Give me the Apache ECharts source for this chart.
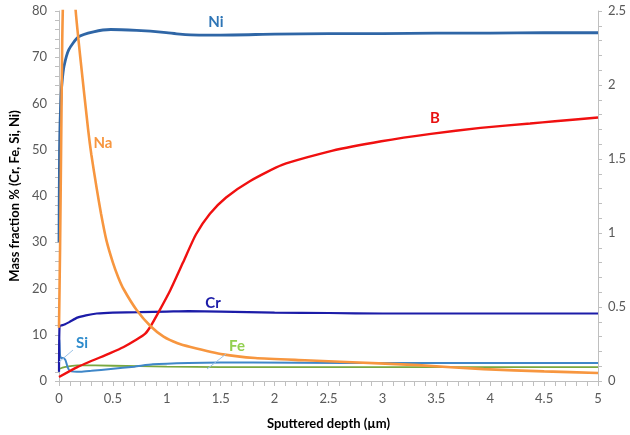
<!DOCTYPE html>
<html>
<head>
<meta charset="utf-8">
<script src="https://cdn.jsdelivr.net/npm/echarts@6/dist/echarts.min.js"></script>
<style>
html,body{margin:0;padding:0;background:#fff;}
#chart{width:630px;height:435px;}
</style>
</head>
<body>
<div id="chart"></div>
<script>
// ---- data (depth in µm) ----
var niDepth = [0, 0.005, 0.01, 0.02, 0.03, 0.046, 0.09, 0.18, 0.32, 0.48, 0.72, 0.97, 1.12, 1.3, 1.5, 2, 2.5, 3, 3.5, 4, 4.5, 5];
var niValue = [30, 50, 56, 62, 65, 68, 71.6, 74.4, 75.5, 76.0, 75.8, 75.4, 75.0, 74.8, 74.8, 75, 75.1, 75.1, 75.2, 75.2, 75.3, 75.3];

var crDepth = [0, 0.005, 0.02, 0.05, 0.1, 0.17, 0.25, 0.35, 0.5, 0.75, 1.0, 1.2, 1.5, 2, 2.5, 3, 4, 5];
var crValue = [2, 11.8, 12, 12.2, 12.8, 13.7, 14.2, 14.6, 14.8, 14.9, 15.0, 15.1, 15.0, 14.8, 14.7, 14.6, 14.6, 14.6];

var siDepth = [0, 0.003, 0.01, 0.02, 0.04, 0.06, 0.08, 0.1, 0.2, 0.3, 0.48, 0.7, 0.87, 1.2, 1.5, 1.8, 2.65, 3.5, 5];
var siValue = [2, 9, 5.5, 5, 5, 4.5, 3, 2.2, 2.0, 2.2, 2.6, 3.1, 3.6, 3.9, 4.0, 4.0, 3.9, 3.9, 3.9];

var feDepth = [0, 0.05, 0.17, 0.5, 1, 1.5, 2, 3, 4, 5];
var feValue = [2.6, 3.0, 3.4, 3.3, 3.1, 3.0, 3.0, 3.0, 3.0, 3.0];

// right axis (B, Na)
var naDepth = [0, 0.01, 0.02, 0.03, 0.035, 0.05, 0.08, 0.12, 0.155, 0.2, 0.27, 0.3, 0.35, 0.39, 0.44, 0.5, 0.55, 0.6, 0.72, 0.85, 0.97, 1.1, 1.22, 1.52, 1.82, 2.28, 2.72, 3.33, 3.94, 4.5, 5];
var naValue = [0.36, 0.9, 1.6, 2.3, 2.5, 2.9, 3.2, 2.95, 2.5, 2.17, 1.70, 1.53, 1.30, 1.13, 0.95, 0.80, 0.70, 0.62, 0.48, 0.37, 0.30, 0.255, 0.23, 0.18, 0.155, 0.14, 0.127, 0.107, 0.08, 0.065, 0.054];

var bDepth = [0, 0.17, 0.48, 0.6, 0.72, 0.8, 0.85, 0.92, 1.03, 1.15, 1.27, 1.4, 1.55, 1.77, 2.07, 2.53, 2.99, 3.45, 3.91, 4.37, 4.6, 5];
var bValue = [0.027, 0.094, 0.19, 0.23, 0.28, 0.32, 0.37, 0.46, 0.61, 0.80, 0.99, 1.13, 1.24, 1.35, 1.46, 1.555, 1.62, 1.67, 1.71, 1.74, 1.755, 1.78];

function pairs(xs, ys){ return xs.map(function(x,i){ return [x, ys[i]]; }); }

var chart = echarts.init(document.getElementById('chart'), null, {renderer:'canvas'});
var axisGray = '#bfbfbf';
var labelColor = '#595959';
var font = 'Lato, "Open Sans", sans-serif';

function line(name, xs, ys, color, width, yIdx, z){
  return {
    name: name, type: 'line', yAxisIndex: yIdx, data: pairs(xs, ys),
    showSymbol: false, symbol: 'none', smooth: 0.2, clip: true, z: z,
    lineStyle: {color: color, width: width}, animation: false
  };
}

chart.setOption({
  animation: false,
  grid: {left: 55, right: 32, top: 11, bottom: 50},
  xAxis: {
    type: 'value', min: 0, max: 5, interval: 0.5,
    name: 'Sputtered depth (µm)', nameLocation: 'middle', nameGap: 36,
    nameTextStyle: {fontFamily: font, fontWeight: 'bold', fontSize: 13, color: '#000'},
    axisLine: {show: true, lineStyle: {color: axisGray}},
    axisTick: {show: true, length: 5, lineStyle: {color: axisGray}},
    minorTick: {show: true, splitNumber: 5, length: 5, lineStyle: {color: axisGray}},
    splitLine: {show: false},
    axisLabel: {fontFamily: font, fontSize: 13, color: labelColor, margin: 11}
  },
  yAxis: [{
    type: 'value', min: 0, max: 80, interval: 10, position: 'left',
    name: 'Mass fraction % (Cr, Fe, Si, Ni)', nameLocation: 'middle', nameGap: 38,
    nameTextStyle: {fontFamily: font, fontWeight: 'bold', fontSize: 13, color: '#000'},
    axisLine: {show: true, lineStyle: {color: axisGray}},
    axisTick: {show: true, length: 4, lineStyle: {color: axisGray}},
    minorTick: {show: true, splitNumber: 5, length: 4, lineStyle: {color: axisGray}},
    splitLine: {show: false},
    axisLabel: {fontFamily: font, fontSize: 13, color: labelColor, margin: 12}
  }, {
    type: 'value', min: 0, max: 2.5, interval: 0.5, position: 'right',
    axisLine: {show: true, lineStyle: {color: axisGray}},
    axisTick: {show: true, length: 4, lineStyle: {color: axisGray}},
    minorTick: {show: true, splitNumber: 5, length: 4, lineStyle: {color: axisGray}},
    splitLine: {show: false},
    axisLabel: {fontFamily: font, fontSize: 13, color: labelColor, margin: 10}
  }],
  series: [
    line('Fe', feDepth, feValue, '#7aa83f', 1.8, 0, 2),
    line('Si', siDepth, siValue, '#3f87c8', 2, 0, 3),
    line('Cr', crDepth, crValue, '#1c1ca8', 2.2, 0, 4),
    line('Ni', niDepth, niValue, '#2f66a6', 2.8, 0, 5),
    line('B', bDepth, bValue, '#f01010', 2.4, 1, 6),
    line('Na', naDepth, naValue, '#f7963f', 2.6, 1, 7)
  ],
  graphic: [
    {type:'text', x:216, y:22, z:100, style:{text:'Ni', fill:'#2e75b6', font:'bold 15px '+font, textAlign:'center', textVerticalAlign:'middle'}},
    {type:'text', x:103, y:143, z:100, style:{text:'Na', fill:'#f7963f', font:'bold 15px '+font, textAlign:'center', textVerticalAlign:'middle'}},
    {type:'text', x:435, y:118, z:100, style:{text:'B', fill:'#e81010', font:'bold 15px '+font, textAlign:'center', textVerticalAlign:'middle'}},
    {type:'text', x:213, y:303, z:100, style:{text:'Cr', fill:'#1c1ca8', font:'bold 15px '+font, textAlign:'center', textVerticalAlign:'middle'}},
    {type:'text', x:82, y:343, z:100, style:{text:'Si', fill:'#2e8bcc', font:'bold 15px '+font, textAlign:'center', textVerticalAlign:'middle'}},
    {type:'text', x:237, y:346, z:100, style:{text:'Fe', fill:'#92d050', font:'bold 15px '+font, textAlign:'center', textVerticalAlign:'middle'}},
    {type:'line', z:100, shape:{x1:73, y1:350, x2:59, y2:362}, style:{stroke:'#9dc3e6', lineWidth:1}},
    {type:'line', z:100, shape:{x1:226, y1:354, x2:207, y2:369}, style:{stroke:'#9dc3e6', lineWidth:1}}
  ]
});
</script>
</body>
</html>
